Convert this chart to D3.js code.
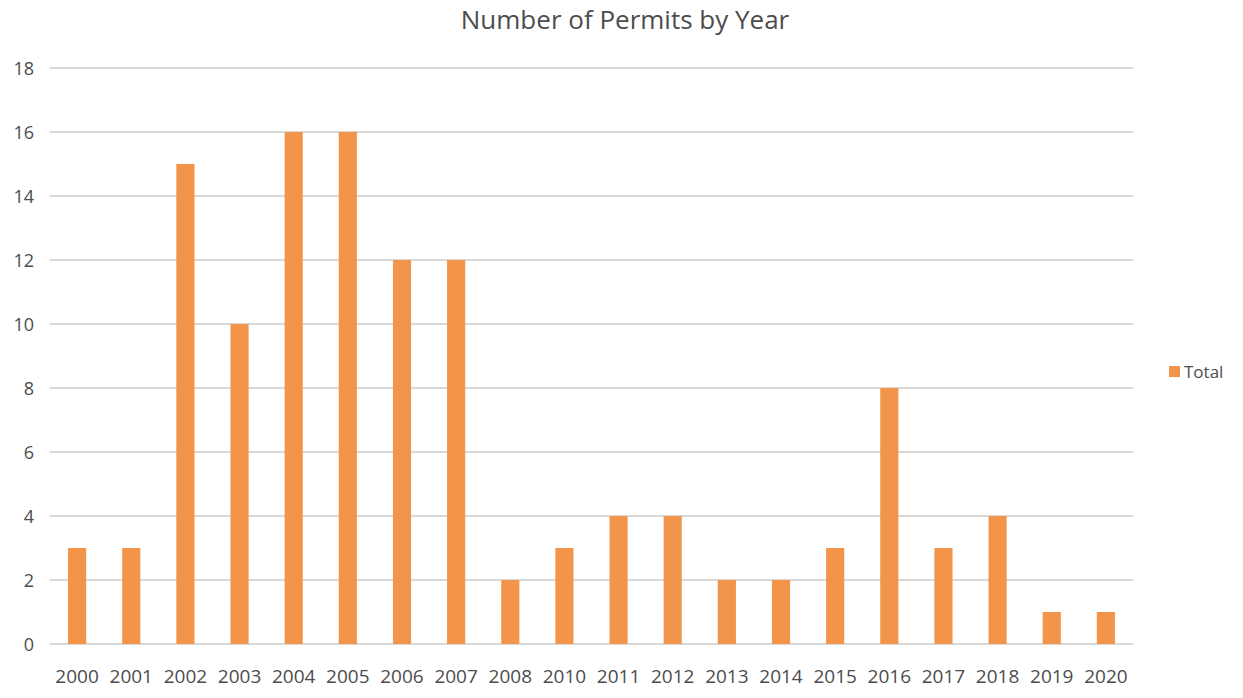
<!DOCTYPE html>
<html>
<head>
<meta charset="utf-8">
<script src="https://cdn.jsdelivr.net/npm/d3@7"></script>
<style>
  html, body { margin: 0; padding: 0; background: #fff; }
  svg { display: block; }
  text { font-family: "Open Sans", "Noto Sans", sans-serif; fill: #4d4d4d; }
</style>
</head>
<body>
<script>
// Permits issued per year (2009 has no entry)
const years = ["2000","2001","2002","2003","2004","2005","2006","2007","2008","2010",
               "2011","2012","2013","2014","2015","2016","2017","2018","2019","2020"];
const totals = [3, 3, 15, 10, 16, 16, 12, 12, 2, 3, 4, 4, 2, 2, 3, 8, 3, 4, 1, 1];
const yTicks = [0, 2, 4, 6, 8, 10, 12, 14, 16, 18];
const seriesName = "Total";
const chartTitle = "Number of Permits by Year";

const W = 1243, H = 698;
const margin = { left: 50, right: 110, top: 68, bottom: 54 };
const barColor = "#F2954A";

const svg = d3.select("body").append("svg").attr("width", W).attr("height", H);

const x = d3.scaleBand()
  .domain(years)
  .range([margin.left, W - margin.right])
  .paddingInner(0.665)
  .paddingOuter(0.333);

const y = d3.scaleLinear()
  .domain([0, 18])
  .range([H - margin.bottom, margin.top]);

// Horizontal gridlines
svg.append("g")
  .selectAll("line")
  .data(yTicks)
  .join("line")
  .attr("x1", margin.left)
  .attr("x2", W - margin.right)
  .attr("y1", d => y(d))
  .attr("y2", d => y(d))
  .attr("stroke", "#d9d9d9")
  .attr("stroke-width", 2);

// Y axis labels
const yAxis = d3.axisLeft(y).tickValues(yTicks).tickSize(0).tickPadding(0);
const gy = svg.append("g").attr("transform", `translate(${margin.left - 16},0)`).call(yAxis);
gy.select(".domain").remove();
gy.selectAll("text")
  .style("font-size", "18px")
  .style("font-weight", "500")
  .attr("fill", "#4d4d4d")
  .attr("dy", "0.36em");

// Bars
svg.append("g")
  .selectAll("rect")
  .data(years.map((yr, i) => ({ yr, v: totals[i] })))
  .join("rect")
  .attr("x", d => x(d.yr))
  .attr("width", x.bandwidth())
  .attr("y", d => y(d.v))
  .attr("height", d => y(0) - y(d.v))
  .attr("fill", barColor);

// X axis labels
const xAxis = d3.axisBottom(x).tickSize(0).tickPadding(0);
const gx = svg.append("g").attr("transform", `translate(0,${y(0)})`).call(xAxis);
gx.select(".domain").remove();
gx.selectAll("text")
  .style("font-size", "19px")
  .style("font-weight", "500")
  .attr("fill", "#4d4d4d")
  .attr("dy", "2.05em");

// Title
svg.append("text")
  .attr("x", 625)
  .attr("y", 29)
  .attr("text-anchor", "middle")
  .style("font-size", "26px")
  .style("font-weight", "500")
  .text(chartTitle);

// Legend
const lg = svg.append("g").attr("transform", "translate(1169,366)");
lg.append("rect").attr("width", 11).attr("height", 11).attr("fill", barColor);
lg.append("text").attr("x", 15).attr("y", 12).style("font-size", "17px").style("font-weight", "500").text(seriesName);
</script>
</body>
</html>
